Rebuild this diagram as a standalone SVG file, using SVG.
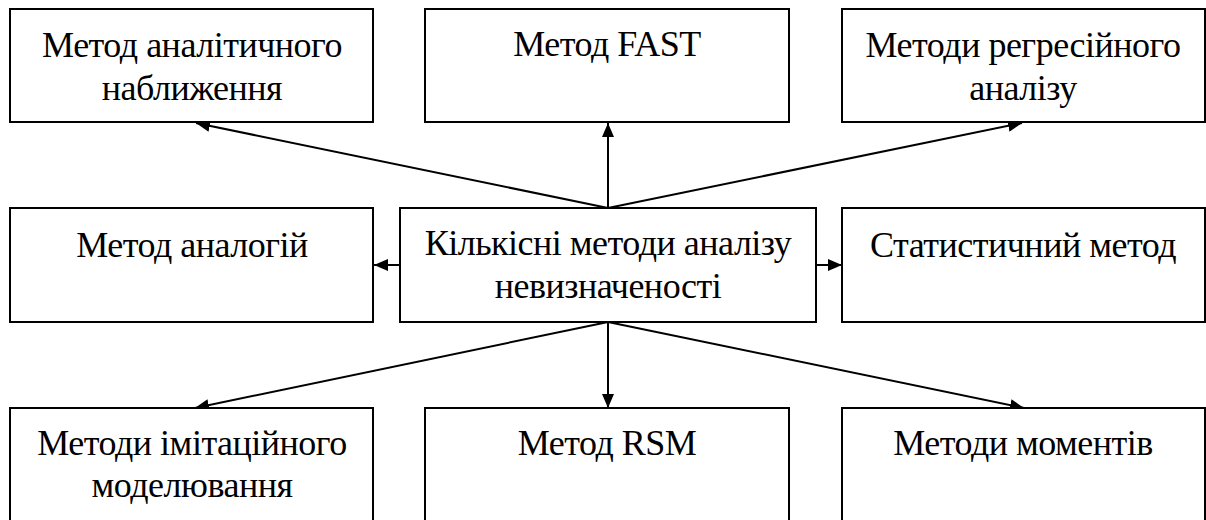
<svg xmlns="http://www.w3.org/2000/svg" width="1206" height="520" viewBox="0 0 1206 520">
  <style>
    .box { fill: #ffffff; stroke: #000000; stroke-width: 2; }
    .lbl { font-family: 'Liberation Serif', 'Times New Roman', serif; font-size: 36px; fill: #000000; text-anchor: middle; letter-spacing: -0.5px; }
    .edge { stroke: #000000; stroke-width: 2; fill: none; marker-end: url(#arrow); }
  </style>
  <defs>
    <marker id="arrow" markerUnits="userSpaceOnUse" markerWidth="14" markerHeight="12" refX="14" refY="6" orient="auto">
      <path d="M0,0 L14,6 L0,12 Z" fill="#000000"/>
    </marker>
  </defs>
  <rect width="1206" height="520" fill="#ffffff"/>

  <!-- arrows fan out from the central box -->
  <g id="connectors">
    <line class="edge" x1="608" y1="208" x2="196" y2="123"/>
    <line class="edge" x1="608" y1="208" x2="608" y2="123"/>
    <line class="edge" x1="608" y1="208" x2="1022" y2="123"/>
    <line class="edge" x1="400" y1="265" x2="374" y2="265"/>
    <line class="edge" x1="816" y1="265" x2="842" y2="265"/>
    <line class="edge" x1="608" y1="322" x2="195" y2="408"/>
    <line class="edge" x1="608" y1="322" x2="608" y2="408"/>
    <line class="edge" x1="608" y1="322" x2="1024" y2="408"/>
  </g>

  <g id="analytic-approx">
    <rect class="box" x="10" y="9" width="363" height="113"/>
    <text class="lbl" x="192" y="57">Метод аналітичного</text>
    <text class="lbl" x="192" y="100">наближення</text>
  </g>
  <g id="fast">
    <rect class="box" x="425" y="9" width="364" height="113"/>
    <text class="lbl" x="607" y="56">Метод FAST</text>
  </g>
  <g id="regression">
    <rect class="box" x="842" y="9" width="363" height="113"/>
    <text class="lbl" x="1023" y="57">Методи регресійного</text>
    <text class="lbl" x="1023" y="100">аналізу</text>
  </g>

  <g id="analogies">
    <rect class="box" x="10" y="208" width="363" height="114"/>
    <text class="lbl" x="192" y="257">Метод аналогій</text>
  </g>
  <g id="quantitative">
    <rect class="box" x="400" y="208" width="416" height="114"/>
    <text class="lbl" x="608" y="255">Кількісні методи аналізу</text>
    <text class="lbl" x="608" y="298">невизначеності</text>
  </g>
  <g id="statistical">
    <rect class="box" x="842" y="208" width="363" height="114"/>
    <text class="lbl" x="1023" y="257">Статистичний метод</text>
  </g>

  <g id="simulation">
    <rect class="box" x="10" y="408" width="363" height="120"/>
    <text class="lbl" x="192" y="455">Методи імітаційного</text>
    <text class="lbl" x="192" y="497">моделювання</text>
  </g>
  <g id="rsm">
    <rect class="box" x="425" y="408" width="364" height="120"/>
    <text class="lbl" x="607" y="455">Метод RSM</text>
  </g>
  <g id="moments">
    <rect class="box" x="842" y="408" width="363" height="120"/>
    <text class="lbl" x="1023" y="455">Методи моментів</text>
  </g>
</svg>
